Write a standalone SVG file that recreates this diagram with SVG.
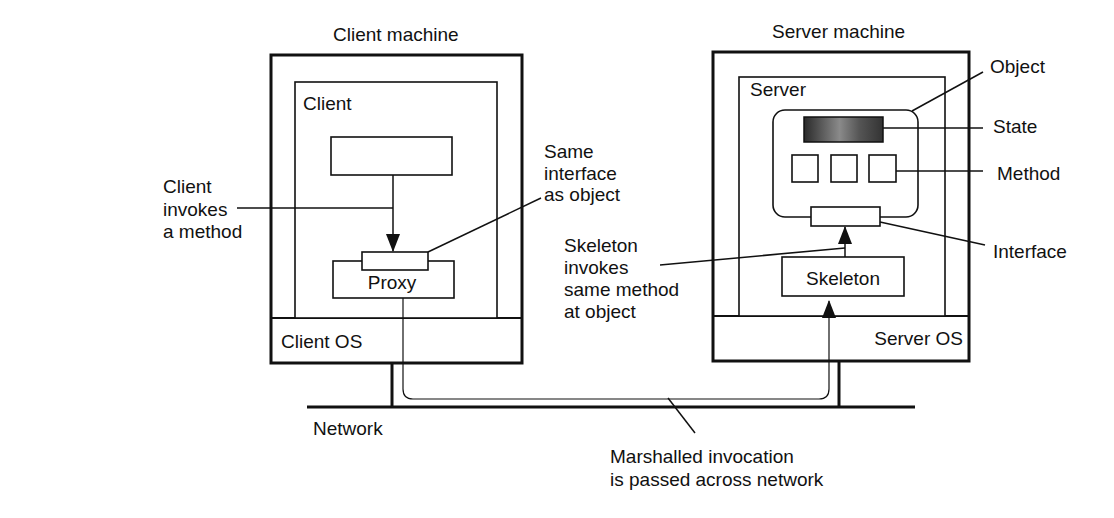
<svg xmlns="http://www.w3.org/2000/svg" width="1114" height="518" viewBox="0 0 1114 518">
<style>
text{font-family:"Liberation Sans",Arial,sans-serif;font-size:19px;fill:#111}
.thick{fill:#fff;stroke:#111;stroke-width:3}
.box{fill:#fff;stroke:#111;stroke-width:1.6}
.ln{fill:none;stroke:#111;stroke-width:1.5}
.thin{fill:none;stroke:#111;stroke-width:1.2}
.end{text-anchor:end}
</style>
<defs>
<marker id="ah" viewBox="0 0 18 14" refX="17" refY="7" markerWidth="18" markerHeight="14" markerUnits="userSpaceOnUse" orient="auto">
<path d="M0,0 L18,7 L0,14 Z" fill="#111"/>
</marker>
<linearGradient id="st" x1="0" y1="0" x2="1" y2="0">
<stop offset="0" stop-color="#2a2a2a"/>
<stop offset="0.45" stop-color="#8a8a8a"/>
<stop offset="0.7" stop-color="#555"/>
<stop offset="1" stop-color="#333"/>
</linearGradient>
</defs>
<rect width="1114" height="518" fill="#fff"/>

<g id="network">
<line x1="307" y1="407" x2="915" y2="407" stroke="#111" stroke-width="3"/>
<line x1="392" y1="363" x2="392" y2="407" stroke="#111" stroke-width="3"/>
<line x1="839" y1="361" x2="839" y2="407" stroke="#111" stroke-width="3"/>
<text x="313" y="435">Network</text>
</g>

<g id="client-machine">
<text x="333" y="41">Client machine</text>
<rect class="thick" x="271" y="55" width="251" height="308"/>
<line x1="271" y1="318" x2="522" y2="318" stroke="#111" stroke-width="2"/>
<text x="281" y="348">Client OS</text>
</g>
<g id="client">
<rect class="box" x="295" y="82" width="202" height="236"/>
<text x="303" y="110">Client</text>
</g>
<g id="client-code">
<rect class="box" x="331" y="137" width="121" height="38"/>
</g>
<g id="proxy">
<rect class="box" x="333" y="261" width="121" height="37"/>
<text x="392" y="289" text-anchor="middle">Proxy</text>
</g>
<g id="proxy-interface">
<rect class="box" x="362" y="252" width="66" height="18"/>
</g>

<g id="server-machine">
<text x="772" y="38">Server machine</text>
<rect class="thick" x="713" y="52" width="256" height="309"/>
<line x1="713" y1="316" x2="969" y2="316" stroke="#111" stroke-width="2"/>
<text class="end" x="963" y="345">Server OS</text>
</g>
<g id="server">
<rect class="box" x="739" y="77" width="206" height="239"/>
<text x="750" y="96">Server</text>
</g>
<g id="object">
<rect class="box" x="773" y="110" width="145" height="107" rx="12"/>
</g>
<g id="state">
<rect x="804" y="117" width="79" height="25" fill="url(#st)" stroke="#111" stroke-width="1.5"/>
</g>
<g id="methods">
<rect class="box" x="792" y="155" width="26" height="27"/>
<rect class="box" x="831" y="155" width="26" height="27"/>
<rect class="box" x="869" y="155" width="27" height="27"/>
</g>
<g id="interface">
<rect class="box" x="811" y="207" width="69" height="19"/>
</g>
<g id="skeleton">
<rect class="box" x="782" y="257" width="122" height="39"/>
<text x="843" y="285" text-anchor="middle">Skeleton</text>
</g>

<g id="connectors">
<line class="ln" x1="393" y1="175" x2="393" y2="251" marker-end="url(#ah)"/>
<line class="ln" x1="845" y1="257" x2="845" y2="227" marker-end="url(#ah)"/>
<path class="thin" d="M403,298 V389 Q403,399 413,399 H819 Q829,399 829,389 V301" marker-end="url(#ah)"/>
<line class="ln" x1="237" y1="208" x2="393" y2="208"/>
<line class="ln" x1="428" y1="252" x2="541" y2="198"/>
<line class="ln" x1="660" y1="265" x2="845" y2="248"/>
<line class="ln" x1="912" y1="111" x2="983" y2="72"/>
<line class="ln" x1="883" y1="128" x2="983" y2="128"/>
<line class="ln" x1="896" y1="171" x2="983" y2="171"/>
<line class="ln" x1="880" y1="222" x2="985" y2="245"/>
<line class="ln" x1="668" y1="398" x2="695" y2="433"/>
</g>

<g id="labels">
<text x="163" y="193">Client</text>
<text x="163" y="216">invokes</text>
<text x="163" y="238">a method</text>
<text x="544" y="158">Same</text>
<text x="544" y="180">interface</text>
<text x="544" y="201">as object</text>
<text x="564" y="252">Skeleton</text>
<text x="564" y="274">invokes</text>
<text x="564" y="296">same method</text>
<text x="564" y="318">at object</text>
<text x="990" y="73">Object</text>
<text x="993" y="133">State</text>
<text x="997" y="180">Method</text>
<text x="993" y="258">Interface</text>
<text x="610" y="463">Marshalled invocation</text>
<text x="610" y="486">is passed across network</text>
</g>
</svg>
